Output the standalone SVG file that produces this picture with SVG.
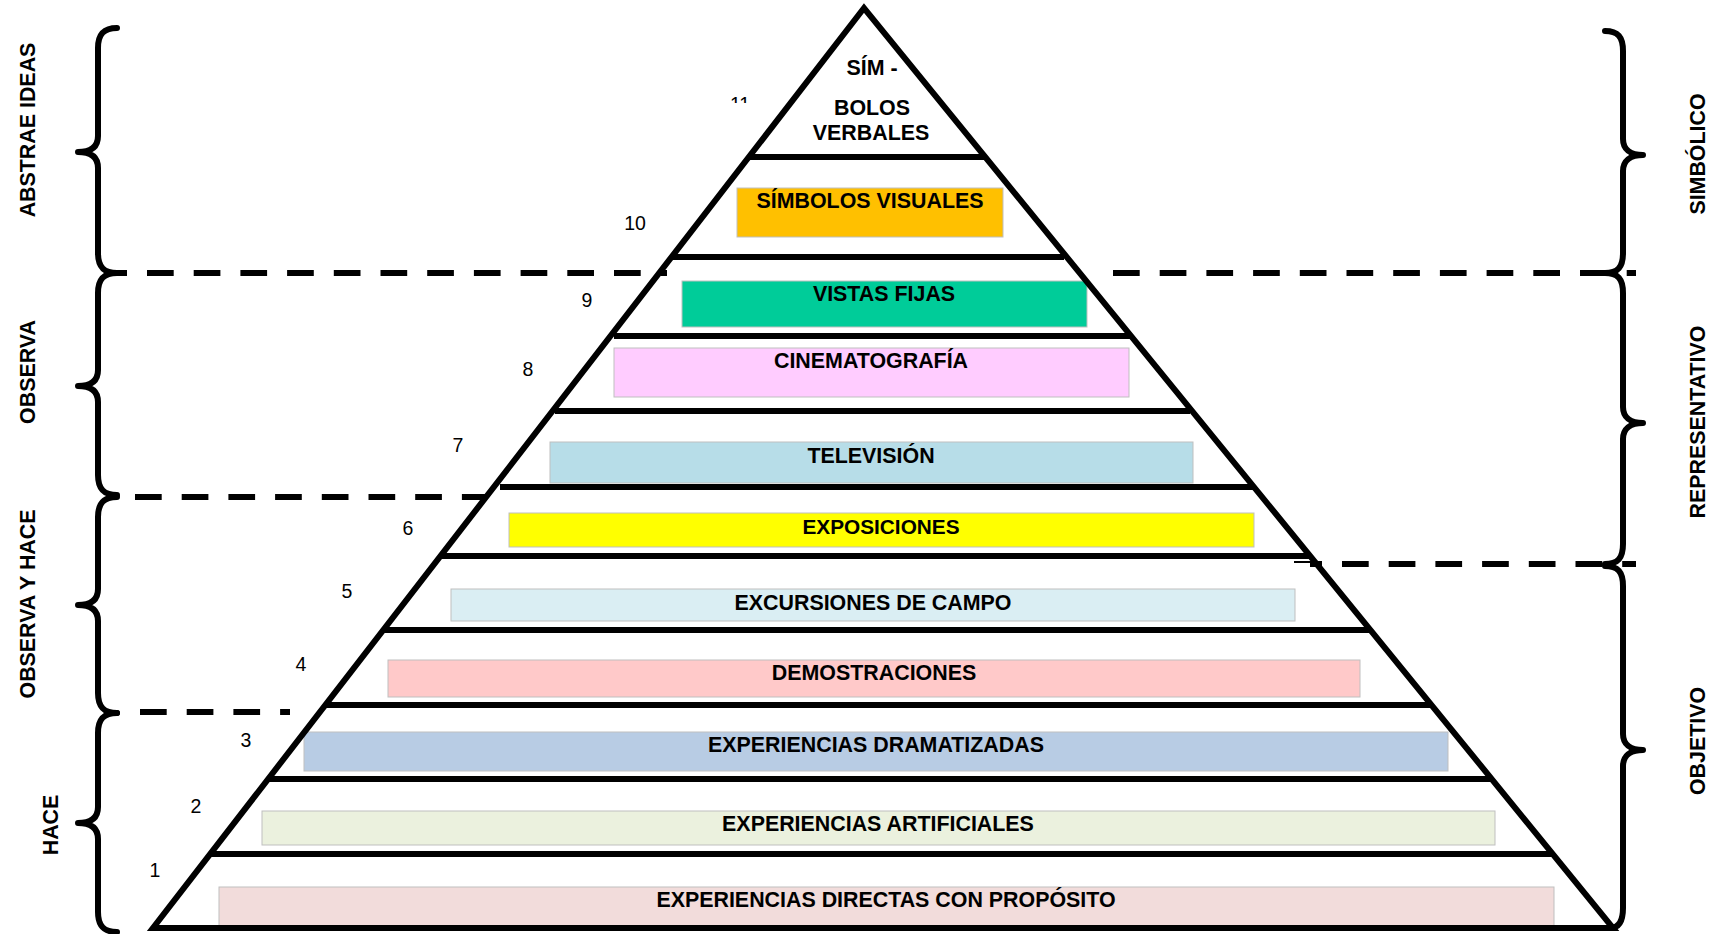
<svg xmlns="http://www.w3.org/2000/svg" width="1720" height="934" viewBox="0 0 1720 934">
<style>
.bx{stroke:#BFBFBF;stroke-width:1}
.lb{font-family:"Liberation Sans",Arial,sans-serif;font-weight:bold;font-size:21.4px;fill:#000;text-anchor:middle}
.num{font-family:"Liberation Sans",Arial,sans-serif;font-size:19.5px;fill:#000;text-anchor:middle}
.tier{stroke:#000;stroke-width:6;fill:none}
.dash{stroke:#000;stroke-width:6;fill:none;stroke-dasharray:26.7 20}
.brace{stroke:#000;stroke-width:6;fill:none;stroke-linecap:round;stroke-linejoin:round}
</style>
<defs>
<clipPath id="clip11"><rect x="720" y="94" width="40" height="9"/></clipPath>
</defs>
<rect width="1720" height="934" fill="#fff"/>

<g id="boxes">
<g id="t10"><rect class="bx" x="737" y="188" width="266" height="49" fill="#FFC000"/><text class="lb" x="870" y="208">SÍMBOLOS VISUALES</text><text class="num" x="635" y="230">10</text></g>
<g id="t9"><rect class="bx" x="682" y="281" width="405" height="46" fill="#00CC99"/><text class="lb" x="884" y="301">VISTAS FIJAS</text><text class="num" x="587" y="307">9</text></g>
<g id="t8"><rect class="bx" x="614" y="348" width="515" height="49" fill="#FFCCFF"/><text class="lb" x="871" y="368">CINEMATOGRAFÍA</text><text class="num" x="528" y="376">8</text></g>
<g id="t7"><rect class="bx" x="550" y="442" width="643" height="41" fill="#B7DDE8"/><text class="lb" x="871" y="463">TELEVISIÓN</text><text class="num" x="458" y="452">7</text></g>
<g id="t6"><rect class="bx" x="509" y="513" width="745" height="34" fill="#FFFF00"/><text class="lb" x="881" y="534" style="font-size:20.8px">EXPOSICIONES</text><text class="num" x="408" y="535">6</text></g>
<g id="t5"><rect class="bx" x="451" y="589" width="844" height="32" fill="#DAEEF3"/><text class="lb" x="873" y="610">EXCURSIONES DE CAMPO</text><text class="num" x="347" y="598">5</text></g>
<g id="t4"><rect class="bx" x="388" y="660" width="972" height="37" fill="#FFC9C9"/><text class="lb" x="874" y="680">DEMOSTRACIONES</text><text class="num" x="301" y="671">4</text></g>
<g id="t3"><rect class="bx" x="304" y="732" width="1144" height="39" fill="#B8CCE4"/><text class="lb" x="876" y="752">EXPERIENCIAS DRAMATIZADAS</text><text class="num" x="246" y="747">3</text></g>
<g id="t2"><rect class="bx" x="262" y="811" width="1233" height="34" fill="#EBF1DE"/><text class="lb" x="878" y="831">EXPERIENCIAS ARTIFICIALES</text><text class="num" x="196" y="813">2</text></g>
<g id="t1"><rect class="bx" x="219" y="887" width="1335" height="39" fill="#F2DCDB"/><text class="lb" x="886" y="907">EXPERIENCIAS DIRECTAS CON PROPÓSITO</text><text class="num" x="155" y="877">1</text></g>
<g id="t11"><text class="lb" x="872" y="75">SÍM -</text><text class="lb" x="872" y="115">BOLOS</text><text class="lb" x="871" y="140">VERBALES</text><text class="num" x="740" y="111" clip-path="url(#clip11)">11</text></g>
</g>

<g id="pyramid">
<line class="tier" x1="749" y1="157" x2="985" y2="157"/>
<line class="tier" x1="672" y1="257" x2="1064" y2="257"/>
<line class="tier" x1="614" y1="336" x2="1131" y2="336"/>
<line class="tier" x1="555" y1="411" x2="1190" y2="411"/>
<line class="tier" x1="500" y1="487" x2="1254" y2="487"/>
<line class="tier" x1="440" y1="556" x2="1309" y2="556"/>
<line class="tier" x1="383" y1="630" x2="1370" y2="630"/>
<line class="tier" x1="325" y1="705" x2="1431" y2="705"/>
<line class="tier" x1="268" y1="779" x2="1492" y2="779"/>
<line class="tier" x1="210" y1="854" x2="1553" y2="854"/>
<polygon class="tier" points="864,8 153,928 1613,928"/>
</g>

<g id="connectors">
<path class="dash" d="M117 273 H667" stroke-dashoffset="16.7"/>
<path class="dash" d="M1113 273 H1636"/>
<path class="dash" d="M135 497 H486"/>
<path class="dash" d="M140 712 H290"/>
<line x1="1294" y1="562" x2="1310" y2="562" stroke="#000" stroke-width="2"/>
<path class="dash" d="M1310 564 H1636" stroke-dashoffset="14.7"/>
</g>

<g id="left-braces">
<g id="b-abstrae"><path class="brace" d="M117,28 C104,28 98,34 98,48 L98,136 C98,146 92,152 78,152 C92,152 98,158 98,168 L98,253 C98,267 104,273 117,273"/><text class="lb" transform="rotate(-90 27 130)" x="27" y="137.5">ABSTRAE IDEAS</text></g>
<g id="b-observa"><path class="brace" d="M117,273 C104,273 98,279 98,293 L98,370 C98,380 92,386 78,386 C92,386 98,392 98,402 L98,475 C98,489 104,495 117,495"/><text class="lb" transform="rotate(-90 27 372)" x="27" y="379.5">OBSERVA</text></g>
<g id="b-obshace"><path class="brace" d="M117,497 C104,497 98,503 98,517 L98,589 C98,599 92,605 78,605 C92,605 98,611 98,621 L98,693 C98,707 104,713 117,713"/><text class="lb" transform="rotate(-90 27 604)" x="27" y="611.5">OBSERVA Y HACE</text></g>
<g id="b-hace"><path class="brace" d="M117,713 C104,713 98,719 98,733 L98,807 C98,817 92,823 78,823 C92,823 98,829 98,839 L98,912 C98,926 104,932 117,932"/><text class="lb" transform="rotate(-90 50 825)" x="50" y="832.5">HACE</text></g>
</g>

<g id="right-braces">
<g id="b-simbolico"><path class="brace" d="M1605,31 C1618,31 1623,37 1623,51 L1623,139 C1623,149 1630,155 1643,155 C1630,155 1623,161 1623,171 L1623,253 C1623,267 1618,273 1605,273"/><text class="lb" transform="rotate(-90 1697 154)" x="1697" y="161.5">SIMBÓLICO</text></g>
<g id="b-repr"><path class="brace" d="M1605,273 C1618,273 1623,279 1623,293 L1623,407 C1623,417 1630,423 1643,423 C1630,423 1623,429 1623,439 L1623,544 C1623,558 1618,564 1605,564"/><text class="lb" transform="rotate(-90 1697 422)" x="1697" y="429.5">REPRESENTATIVO</text></g>
<g id="b-objetivo"><path class="brace" d="M1605,566 C1618,566 1623,572 1623,586 L1623,734 C1623,744 1630,750 1643,750 C1630,750 1623,756 1623,766 L1623,908 C1623,922 1618,928 1610,928"/><text class="lb" transform="rotate(-90 1697 741)" x="1697" y="748.5">OBJETIVO</text></g>
</g>
</svg>
